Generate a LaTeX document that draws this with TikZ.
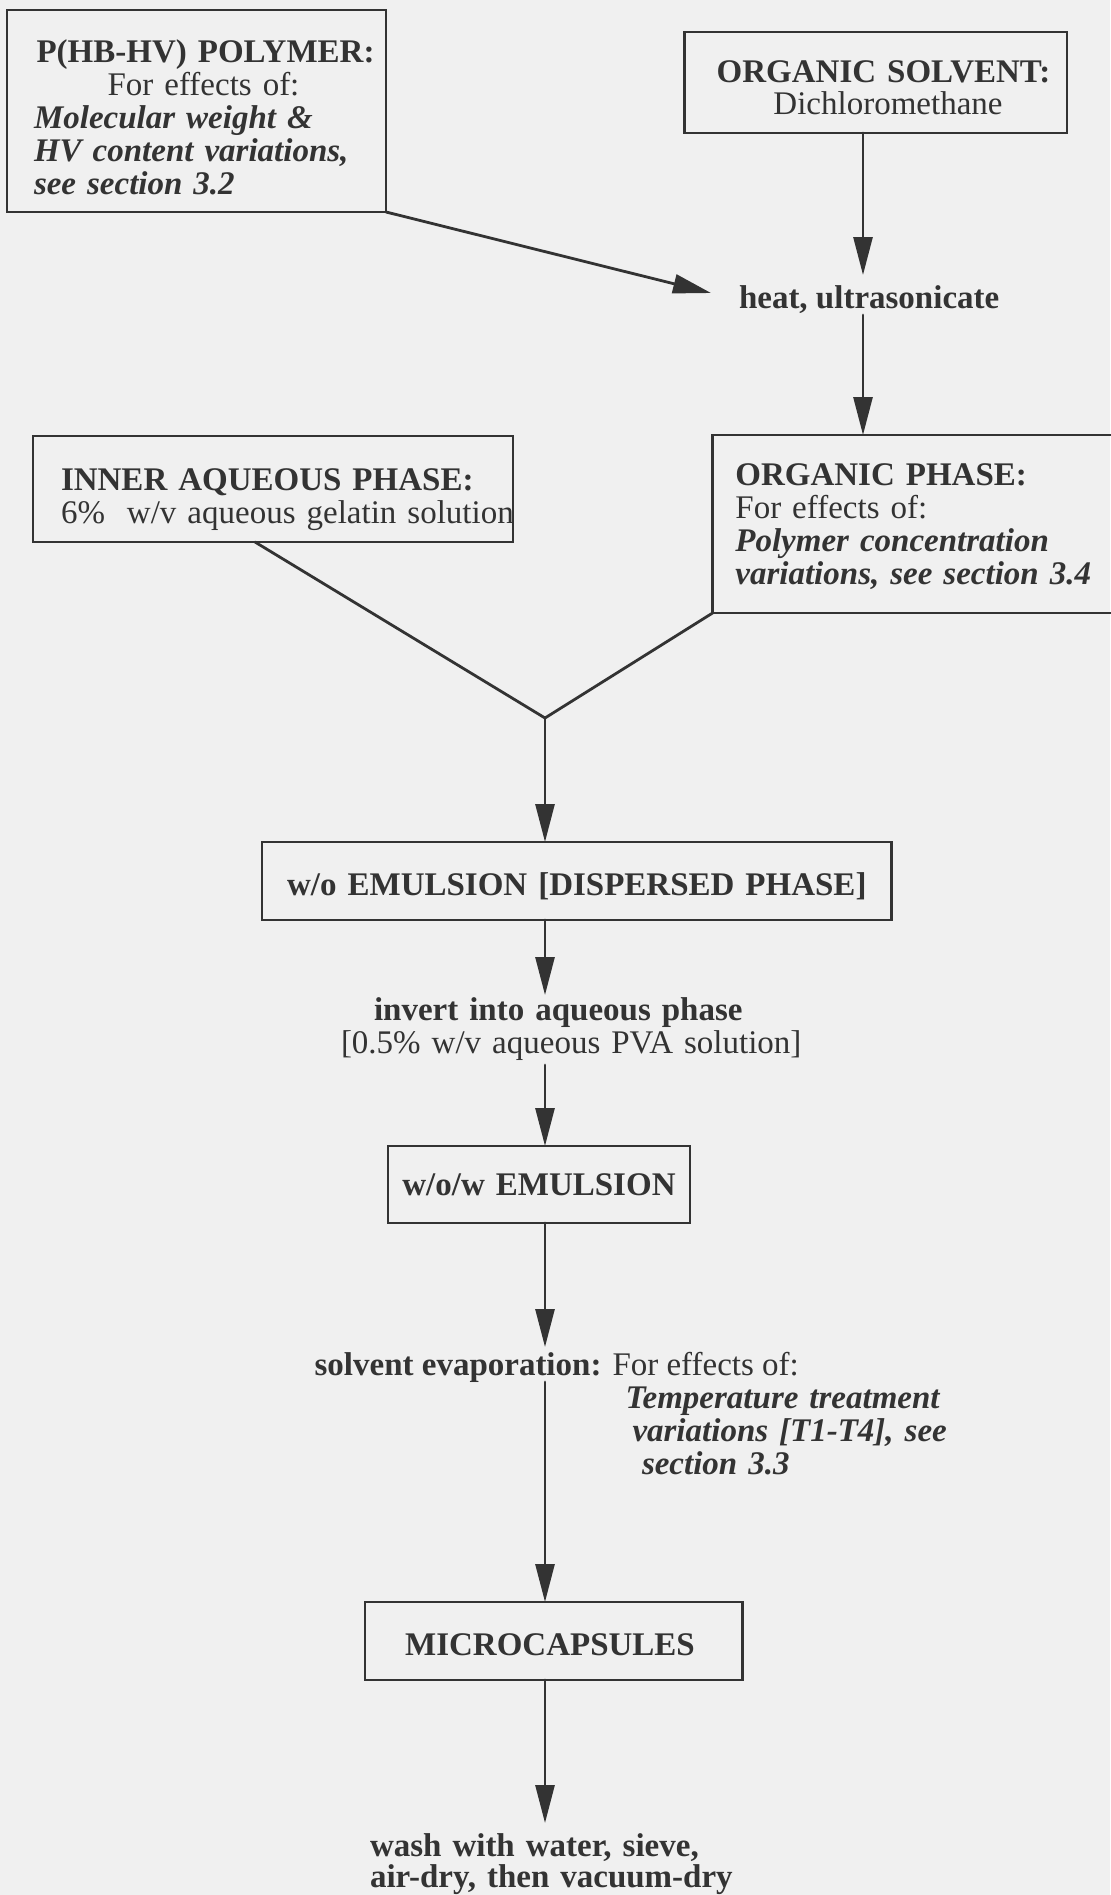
\documentclass[tikz,border=0pt]{standalone}
\usepackage{fontspec}
\setmainfont{Liberation Serif}
\usetikzlibrary{arrows.meta,calc}
\definecolor{ink}{HTML}{333333}
\definecolor{paper}{HTML}{F0F0F0}
\setlength{\lineskiplimit}{-100pt}
\newcommand{\ctrline}[2]{\makebox[\linewidth][c]{\hspace*{#1}#2}}
\newcommand{\indline}[2]{\mbox{\hspace*{#1}#2}}
\newcommand{\bfit}[1]{\textbf{\textit{#1}}}
\begin{document}
\begin{tikzpicture}[x=0.5pt,y=-0.5pt,
  txt/.style={font=\fontsize{16.5pt}{16.5pt}\selectfont, text=ink, inner sep=0pt, outer sep=0pt, align=left},
  box/.style={txt, draw=ink, line width=1.3pt, anchor=north west},
  lbl/.style={txt, anchor=north west, text height=11.5pt, text depth=3.5pt},
  conn/.style={draw=ink, line width=1.4pt, line cap=round},
  arr/.style={conn, -{Triangle[length=19pt,width=9.5pt]}}
]
\fill[paper] (0,0) rectangle (1110,1895);
\useasboundingbox (0,0) rectangle (1110,1895);

\node[box, text width=189.5pt, text height=26pt, text depth=75pt] (poly) at (7,10)
  {\ctrline{9pt}{\textbf{P(HB-HV) POLYMER:}}\\
   \ctrline{7pt}{For effects of:}\\
   \indline{13.5pt}{\bfit{Molecular weight \&}}\\
   \indline{13.5pt}{\bfit{HV content variations,}}\\
   \indline{13.5pt}{\bfit{see section 3.2}}};

\node[box, text width=191.25pt, text height=25pt, text depth=25.5pt] (solvent) at (684.5,32)
  {\ctrline{7.85pt}{\textbf{ORGANIC SOLVENT:}}\\
   \ctrline{12.25pt}{Dichloromethane}};

\node[lbl, anchor=base west] (heat) at (739,308) {\textbf{heat, ultrasonicate}};

\node[box, text width=203.7pt, text height=25pt, text depth=64pt] (organic) at (712.6,435)
  {\indline{11.4pt}{\textbf{ORGANIC PHASE:}}\\
   \indline{11.4pt}{For effects of:}\\
   \indline{11.4pt}{\bfit{Polymer concentration}}\\
   \indline{11.4pt}{\bfit{variations, see section 3.4}}};

\node[box, text width=240pt, text height=27pt, text depth=26pt] (inner) at (33,436)
  {\indline{14pt}{\textbf{INNER AQUEOUS PHASE:}}\\
   \indline{14pt}{6\%\ \ w/v aqueous gelatin solution}};

\node[box, text width=314.85pt, text height=26.5pt, text depth=12.5pt] (wo) at (262,842)
  {\ctrline{0pt}{\textbf{w/o EMULSION [DISPERSED PHASE]}}};

\node[lbl, text width=240pt, text depth=19.5pt] (invert) at (341,997)
  {\indline{16.5pt}{\textbf{invert into aqueous phase}}\\
   \indline{0pt}{[0.5\% w/v aqueous PVA solution]}};

\node[box, text width=151pt, text height=24.5pt, text depth=14pt] (wow) at (388,1146)
  {\ctrline{0pt}{\textbf{w/o/w EMULSION}}};

\node[lbl, anchor=base west] (evap) at (314.6,1375) {\textbf{solvent evaporation:} For effects of:};

\node[lbl, text width=170pt, text depth=36.5pt] (evapnote) at (625.5,1385)
  {\indline{0pt}{\bfit{Temperature treatment}}\\
   \indline{3.5pt}{\bfit{variations [T1-T4], see}}\\
   \indline{8.25pt}{\bfit{section 3.3}}};

\node[box, text width=188.85pt, text height=26.5pt, text depth=12.5pt] (micro) at (365,1602)
  {\ctrline{-3.85pt}{\textbf{MICROCAPSULES}}};

\node[lbl, text width=200pt, text depth=19pt] (wash) at (370,1833)
  {\indline{0pt}{\textbf{wash with water, sieve,}}\\[-1pt]
   \indline{0pt}{\textbf{air-dry, then vacuum-dry}}};

\coordinate (ax) at (545,0);
\coordinate (bx) at (863,0);
\coordinate (jn) at (545,718);

\draw[arr, shorten >=5pt] (solvent.south -| bx) -- (heat.north -| bx);
\draw[arr] (heat.south -| bx) -- (organic.north -| bx);
\draw[arr] (poly.south east) -- ($(heat.base west)+(-28,-15)$);
\draw[conn] ([xshift=111pt]inner.south west) -- (jn);
\draw[conn] (organic.south west) -- (jn);
\draw[arr] (jn) -- (wo.north -| ax);
\draw[arr, shorten >=1pt] (wo.south -| ax) -- (invert.north -| ax);
\draw[arr, shorten <=3pt] (invert.south -| ax) -- (wow.north -| ax);
\draw[arr, shorten >=2.5pt] (wow.south -| ax) -- (evap.north -| ax);
\draw[arr] (evap.south -| ax) -- (micro.north -| ax);
\draw[arr, shorten >=5pt] (micro.south -| ax) -- (wash.north -| ax);
\end{tikzpicture}
\end{document}
